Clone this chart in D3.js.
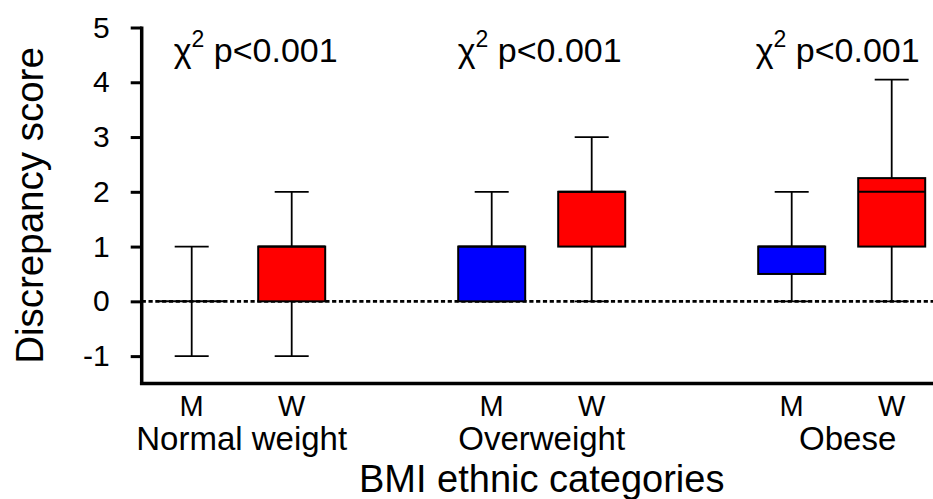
<!DOCTYPE html>
<html>
<head>
<meta charset="utf-8">
<script src="https://cdn.jsdelivr.net/npm/d3@7"></script>
<style>
  html, body { margin: 0; padding: 0; background: #fff; }
  svg { display: block; font-family: Arial, "Liberation Sans", Helvetica, sans-serif; }
</style>
</head>
<body>
<svg id="chart" width="933" height="499"></svg>
<script>
// ---- data ----
const groups = ["Normal weight", "Overweight", "Obese"];
const sexes = ["M", "W"];
const boxGroup = [0, 0, 1, 1, 2, 2];
const boxSex = ["M", "W", "M", "W", "M", "W"];
const whiskerLow = [-1, -1, 0, 0, 0, 0];
const q1 = [0, 0, 0, 1, 0.5, 1];
const median = [0, 1, 1, 2, 1, 2];
const q3 = [0, 1, 1, 2, 1, 2.25];
const whiskerHigh = [1, 2, 2, 3, 2, 4.05];
const annotations = ["p<0.001", "p<0.001", "p<0.001"];
const yTicks = [-1, 0, 1, 2, 3, 4, 5];

// ---- layout ----
const svg = d3.select("#chart");
const colorBySex = { M: "#0000ff", W: "#ff0000" };

// slot index: each group occupies 3 slots (M, W, gap)
const slot = i => boxGroup[i] * 3 + sexes.indexOf(boxSex[i]);
const x = d3.scaleLinear().domain([-0.5, 7.5]).range([141.7, 941.7]);
const y = d3.scaleLinear().domain([-1.5, 5]).range([383.5, 27.5]);
const boxW = x(0.67) - x(0);
const capW = x(0.34) - x(0);

// zero reference line (dotted)
svg.append("line")
  .attr("x1", x(-0.5)).attr("x2", 933)
  .attr("y1", y(0)).attr("y2", y(0))
  .attr("stroke", "#000").attr("stroke-width", 2.8)
  .attr("stroke-dasharray", "4.2,2.6");

// boxes
const data = boxSex.map((s, i) => ({
  i, s, lo: whiskerLow[i], q1: q1[i], med: median[i], q3: q3[i], hi: whiskerHigh[i]
}));

const g = svg.append("g").selectAll("g").data(data).join("g");

// whiskers
g.append("line")
  .attr("x1", d => x(slot(d.i))).attr("x2", d => x(slot(d.i)))
  .attr("y1", d => y(d.q3)).attr("y2", d => y(d.hi))
  .attr("stroke", "#000").attr("stroke-width", 1.8);
g.append("line")
  .attr("x1", d => x(slot(d.i))).attr("x2", d => x(slot(d.i)))
  .attr("y1", d => y(d.q1)).attr("y2", d => y(d.lo))
  .attr("stroke", "#000").attr("stroke-width", 1.8);
// caps
g.append("line")
  .attr("x1", d => x(slot(d.i)) - capW / 2).attr("x2", d => x(slot(d.i)) + capW / 2)
  .attr("y1", d => y(d.hi)).attr("y2", d => y(d.hi))
  .attr("stroke", "#000").attr("stroke-width", 1.8);
g.append("line")
  .attr("x1", d => x(slot(d.i)) - capW / 2).attr("x2", d => x(slot(d.i)) + capW / 2)
  .attr("y1", d => y(d.lo)).attr("y2", d => y(d.lo))
  .attr("stroke", "#000").attr("stroke-width", 1.8);
// box
g.filter(d => d.q3 > d.q1).append("rect")
  .attr("x", d => x(slot(d.i)) - boxW / 2)
  .attr("width", boxW)
  .attr("y", d => y(d.q3))
  .attr("height", d => y(d.q1) - y(d.q3))
  .attr("fill", d => colorBySex[d.s])
  .attr("stroke", "#000").attr("stroke-width", 2);
// median
g.append("line")
  .attr("x1", d => x(slot(d.i)) - boxW / 2).attr("x2", d => x(slot(d.i)) + boxW / 2)
  .attr("y1", d => y(d.med)).attr("y2", d => y(d.med))
  .attr("stroke", "#000").attr("stroke-width", 2);

// ---- axes ----
const yAxis = svg.append("g")
  .attr("transform", `translate(${x(-0.5)},0)`)
  .call(d3.axisLeft(y).tickValues(yTicks).tickSize(11).tickPadding(21).tickFormat(d3.format("d")));
yAxis.select(".domain").remove();
yAxis.selectAll(".tick line").attr("stroke", "#000").attr("stroke-width", 3);
yAxis.selectAll(".tick text")
  .attr("font-size", 30).attr("fill", "#000")
  .attr("font-family", "Arial, 'Liberation Sans', sans-serif")
  .text(d => d < 0 ? "-" + Math.abs(d) : d);

// axis lines
svg.append("line")
  .attr("x1", x(-0.5)).attr("x2", x(-0.5))
  .attr("y1", y(5) - 1).attr("y2", y(-1.5) + 1.5)
  .attr("stroke", "#000").attr("stroke-width", 3.5);
svg.append("line")
  .attr("x1", x(-0.5) - 1.75).attr("x2", x(7.5))
  .attr("y1", y(-1.5)).attr("y2", y(-1.5))
  .attr("stroke", "#000").attr("stroke-width", 3.5);

// x labels (M / W)
svg.append("g").selectAll("text").data(data).join("text")
  .attr("x", d => x(slot(d.i)))
  .attr("y", 416)
  .attr("text-anchor", "middle")
  .attr("font-size", 29)
  .text(d => d.s);

// group labels
svg.append("g").selectAll("text").data(groups).join("text")
  .attr("x", (d, k) => x(k * 3 + 0.5) + (k === 2 ? 6 : 0))
  .attr("y", 450)
  .attr("text-anchor", "middle")
  .attr("font-size", 33)
  .text(d => d);

// axis titles
svg.append("text")
  .attr("x", x(3.5)).attr("y", 492)
  .attr("text-anchor", "middle")
  .attr("font-size", 38)
  .text("BMI ethnic categories");

svg.append("text")
  .attr("transform", `translate(43,${y(1.75)}) rotate(-90)`)
  .attr("text-anchor", "middle")
  .attr("font-size", 38.5)
  .text("Discrepancy score");

// chi-square annotations
const ann = svg.append("g").selectAll("text").data(annotations).join("text")
  .attr("x", (d, k) => x(k * 3 + 0.5) + [14, -2, -4][k])
  .attr("y", 62)
  .attr("text-anchor", "middle")
  .attr("font-size", 34);
ann.append("tspan").text("χ");
ann.append("tspan").attr("font-size", 23).attr("dy", -15).text("2");
ann.append("tspan").attr("dy", 15).text(d => "\u00a0" + d);
</script>
</body>
</html>
